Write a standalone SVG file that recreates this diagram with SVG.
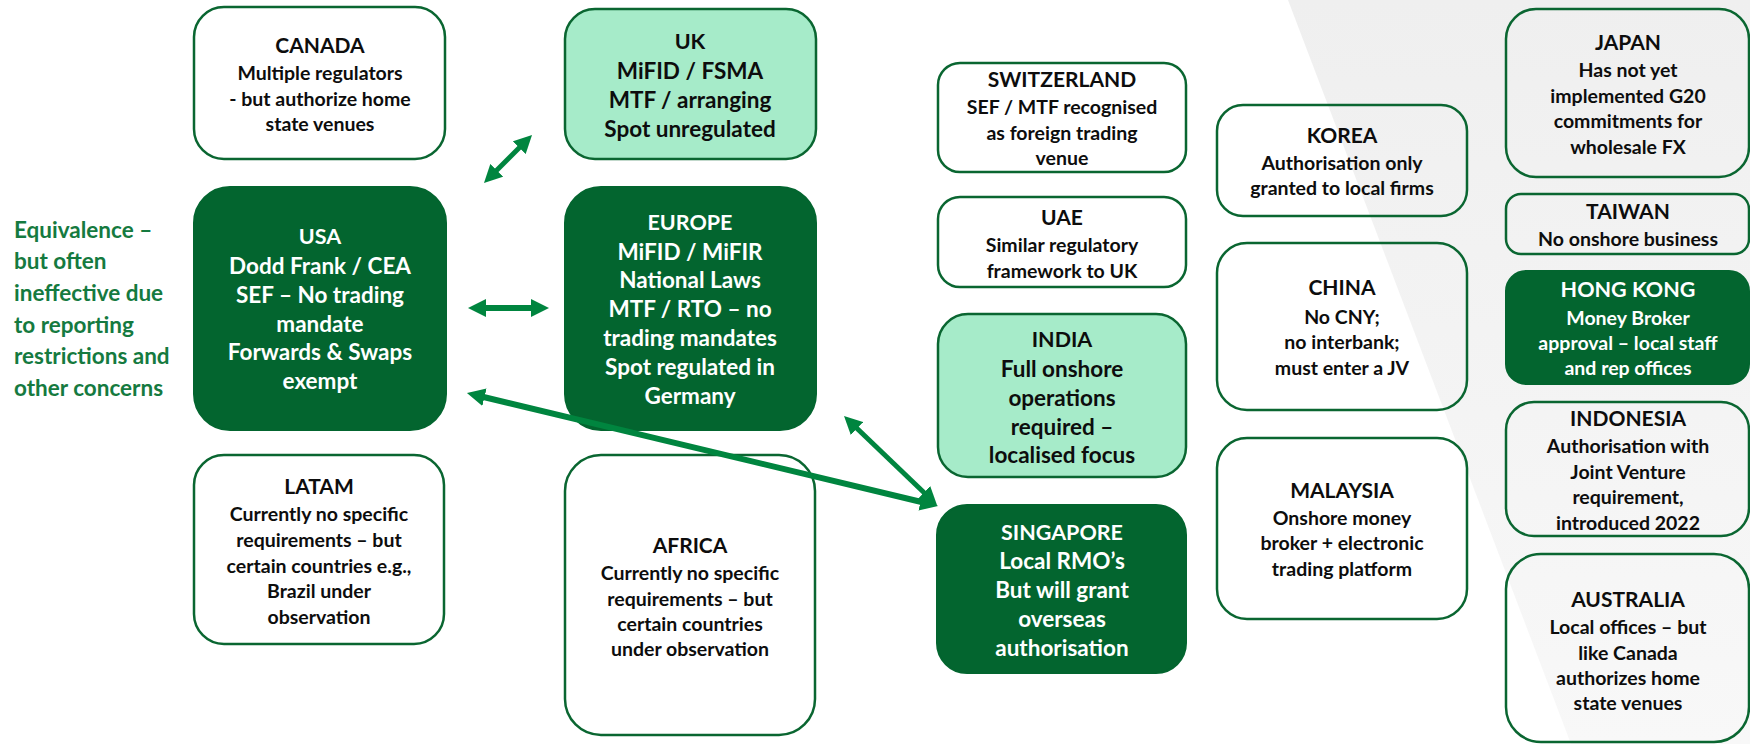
<svg xmlns="http://www.w3.org/2000/svg" width="1750" height="744" viewBox="0 0 1750 744">
<style>
  text { font-family: Lato, "Open Sans", "Liberation Sans", sans-serif; font-weight: 700; text-anchor: middle; }
  .box { fill: none; stroke: #0a6631; stroke-width: 2.5; }
  .mint { fill: #a6ebc9; stroke: #0a6631; stroke-width: 2.5; }
  .dark { fill: #03652f; stroke: #03652f; stroke-width: 2; }
  .blk { fill: #0d0d0d; }
  .wht { fill: #ffffff; }
  .t { font-size: 21px; }
  .b { font-size: 22.5px; }
  .bt { font-size: 21.5px; }
  .s { font-size: 19.5px; }
  .conn { stroke: #00853f; fill: none; marker-start: url(#ah); marker-end: url(#ah); }
</style>
<defs>
  <linearGradient id="bg" x1="0" y1="0" x2="0" y2="1">
    <stop offset="0" stop-color="#efefef"/>
    <stop offset="1" stop-color="#f8f8f8"/>
  </linearGradient>
  <marker id="ah" viewBox="0 0 18 18" refX="1" refY="9" markerWidth="18" markerHeight="18" markerUnits="userSpaceOnUse" orient="auto-start-reverse">
    <path d="M0,0 L18,9 L0,18 z" fill="#00853f"/>
  </marker>
</defs>
<rect x="0" y="0" width="1750" height="744" fill="#ffffff"/>
<polygon points="1288,0 1750,0 1750,744 1571,744" fill="url(#bg)"/>

<g id="equivalence-note" style="fill:#157a40">
  <text style="text-anchor:start" class="b" x="14"><tspan x="14" y="238">Equivalence –</tspan><tspan x="14" y="269">but often</tspan><tspan x="14" y="301">ineffective due</tspan><tspan x="14" y="333">to reporting</tspan><tspan x="14" y="364">restrictions and</tspan><tspan x="14" y="396">other concerns</tspan></text>
</g>

<g id="canada">
  <rect class="box" x="194" y="7" width="251" height="152" rx="30"/>
  <text class="blk"><tspan class="t" x="320" y="53">CANADA</tspan><tspan class="s" x="320" y="80">Multiple regulators</tspan><tspan class="s" x="320" y="106">- but authorize home</tspan><tspan class="s" x="320" y="131">state venues</tspan></text>
</g>

<g id="usa">
  <rect class="dark" x="194" y="187" width="252" height="243" rx="36"/>
  <text class="wht b"><tspan class="bt" x="320" y="244">USA</tspan><tspan x="320" y="274">Dodd Frank / CEA</tspan><tspan x="320" y="303">SEF – No trading</tspan><tspan x="320" y="332">mandate</tspan><tspan x="320" y="360">Forwards &amp; Swaps</tspan><tspan x="320" y="389">exempt</tspan></text>
</g>

<g id="latam">
  <rect class="box" x="194" y="455" width="250" height="189" rx="30"/>
  <text class="blk"><tspan class="t" x="319" y="494">LATAM</tspan><tspan class="s" x="319" y="521">Currently no specific</tspan><tspan class="s" x="319" y="547">requirements – but</tspan><tspan class="s" x="319" y="573">certain countries e.g.,</tspan><tspan class="s" x="319" y="598">Brazil under</tspan><tspan class="s" x="319" y="624">observation</tspan></text>
</g>

<g id="uk">
  <rect class="mint" x="565" y="9" width="251" height="150" rx="30"/>
  <text class="blk b"><tspan class="bt" x="690" y="49">UK</tspan><tspan x="690" y="79">MiFID / FSMA</tspan><tspan x="690" y="108">MTF / arranging</tspan><tspan x="690" y="137">Spot unregulated</tspan></text>
</g>

<g id="europe">
  <rect class="dark" x="565" y="187" width="251" height="243" rx="36"/>
  <text class="wht b"><tspan class="bt" x="690" y="230">EUROPE</tspan><tspan x="690" y="260">MiFID / MiFIR</tspan><tspan x="690" y="288">National Laws</tspan><tspan x="690" y="317">MTF / RTO – no</tspan><tspan x="690" y="346">trading mandates</tspan><tspan x="690" y="375">Spot regulated in</tspan><tspan x="690" y="404">Germany</tspan></text>
</g>

<g id="africa">
  <rect class="box" x="565" y="455" width="250" height="280" rx="36"/>
  <text class="blk"><tspan class="t" x="690" y="553">AFRICA</tspan><tspan class="s" x="690" y="580">Currently no specific</tspan><tspan class="s" x="690" y="606">requirements – but</tspan><tspan class="s" x="690" y="631">certain countries</tspan><tspan class="s" x="690" y="656">under observation</tspan></text>
</g>

<g id="switzerland">
  <rect class="box" x="938" y="63" width="248" height="109" rx="22"/>
  <text class="blk"><tspan class="t" x="1062" y="87">SWITZERLAND</tspan><tspan class="s" x="1062" y="114">SEF / MTF recognised</tspan><tspan class="s" x="1062" y="140">as foreign trading</tspan><tspan class="s" x="1062" y="165">venue</tspan></text>
</g>

<g id="uae">
  <rect class="box" x="938" y="197" width="248" height="90" rx="22"/>
  <text class="blk"><tspan class="t" x="1062" y="225">UAE</tspan><tspan class="s" x="1062" y="252">Similar regulatory</tspan><tspan class="s" x="1062" y="278">framework to UK</tspan></text>
</g>

<g id="india">
  <rect class="mint" x="938" y="314" width="248" height="163" rx="30"/>
  <text class="blk b"><tspan class="bt" x="1062" y="347">INDIA</tspan><tspan x="1062" y="377">Full onshore</tspan><tspan x="1062" y="406">operations</tspan><tspan x="1062" y="435">required –</tspan><tspan x="1062" y="463">localised focus</tspan></text>
</g>

<g id="singapore">
  <rect class="dark" x="937" y="505" width="249" height="168" rx="30"/>
  <text class="wht b"><tspan class="bt" x="1062" y="540">SINGAPORE</tspan><tspan x="1062" y="569">Local RMO’s</tspan><tspan x="1062" y="598">But will grant</tspan><tspan x="1062" y="627">overseas</tspan><tspan x="1062" y="656">authorisation</tspan></text>
</g>

<g id="korea">
  <rect class="box" x="1217" y="105" width="250" height="111" rx="26"/>
  <text class="blk"><tspan class="t" x="1342" y="143">KOREA</tspan><tspan class="s" x="1342" y="170">Authorisation only</tspan><tspan class="s" x="1342" y="195">granted to local firms</tspan></text>
</g>

<g id="china">
  <rect class="box" x="1217" y="243" width="250" height="167" rx="30"/>
  <text class="blk"><tspan class="t" x="1342" y="295">CHINA</tspan><tspan class="s" x="1342" y="324">No CNY;</tspan><tspan class="s" x="1342" y="349">no interbank;</tspan><tspan class="s" x="1342" y="375">must enter a JV</tspan></text>
</g>

<g id="malaysia">
  <rect class="box" x="1217" y="438" width="250" height="181" rx="30"/>
  <text class="blk"><tspan class="t" x="1342" y="498">MALAYSIA</tspan><tspan class="s" x="1342" y="525">Onshore money</tspan><tspan class="s" x="1342" y="550">broker + electronic</tspan><tspan class="s" x="1342" y="576">trading platform</tspan></text>
</g>

<g id="japan">
  <rect class="box" x="1506" y="9" width="243" height="168" rx="30"/>
  <text class="blk"><tspan class="t" x="1628" y="50">JAPAN</tspan><tspan class="s" x="1628" y="77">Has not yet</tspan><tspan class="s" x="1628" y="103">implemented G20</tspan><tspan class="s" x="1628" y="128">commitments for</tspan><tspan class="s" x="1628" y="154">wholesale FX</tspan></text>
</g>

<g id="taiwan">
  <rect class="box" x="1506" y="194" width="243" height="60" rx="15"/>
  <text class="blk"><tspan class="t" x="1628" y="219">TAIWAN</tspan><tspan class="s" x="1628" y="246">No onshore business</tspan></text>
</g>

<g id="hong-kong">
  <rect class="dark" x="1506" y="271" width="243" height="113" rx="20"/>
  <text class="wht"><tspan class="bt" x="1628" y="297">HONG KONG</tspan><tspan class="s" x="1628" y="325">Money Broker</tspan><tspan class="s" x="1628" y="350">approval – local staff</tspan><tspan class="s" x="1628" y="375">and rep offices</tspan></text>
</g>

<g id="indonesia">
  <rect class="box" x="1506" y="402" width="243" height="134" rx="28"/>
  <text class="blk"><tspan class="t" x="1628" y="426">INDONESIA</tspan><tspan class="s" x="1628" y="453">Authorisation with</tspan><tspan class="s" x="1628" y="479">Joint Venture</tspan><tspan class="s" x="1628" y="504">requirement,</tspan><tspan class="s" x="1628" y="530">introduced 2022</tspan></text>
</g>

<g id="australia">
  <rect class="box" x="1506" y="554" width="243" height="188" rx="35"/>
  <text class="blk"><tspan class="t" x="1628" y="607">AUSTRALIA</tspan><tspan class="s" x="1628" y="634">Local offices – but</tspan><tspan class="s" x="1628" y="660">like Canada</tspan><tspan class="s" x="1628" y="685">authorizes home</tspan><tspan class="s" x="1628" y="710">state venues</tspan></text>
</g>

<g id="connectors">
  <line class="conn" stroke-width="5" x1="496" y1="171" x2="520" y2="147"/>
  <line class="conn" stroke-width="6" x1="485" y1="308" x2="532" y2="308"/>
  <line class="conn" stroke-width="6" x1="483.5" y1="397" x2="921.5" y2="502"/>
  <line class="conn" stroke-width="5" x1="856.3" y1="427.8" x2="924.7" y2="493.2"/>
</g>
</svg>
